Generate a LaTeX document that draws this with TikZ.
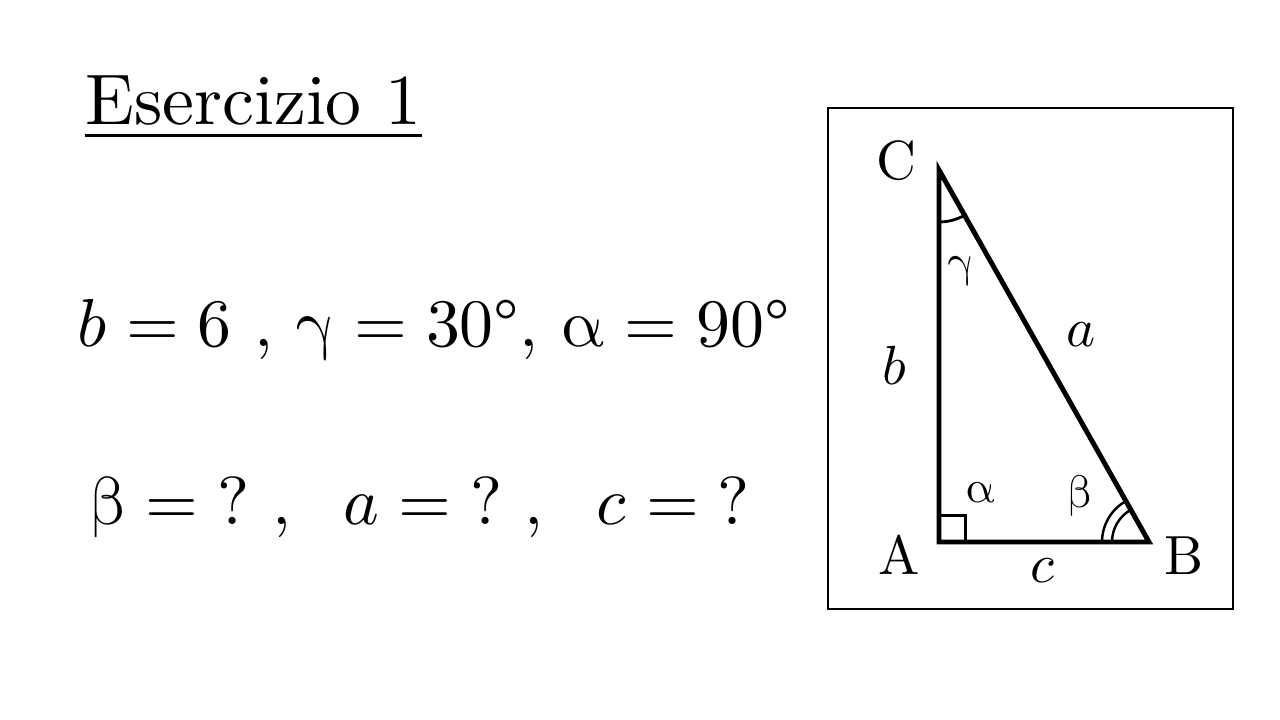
\documentclass[tikz,border=0pt]{standalone}
\usepackage{unicode-math}
\setmathfont{Latin Modern Math}

\begin{document}
\begin{tikzpicture}[line join=miter,
  big/.style={anchor=base west,inner sep=0pt,font=\fontsize{10}{12}\selectfont,scale=1.93,transform shape},
  vtx/.style={anchor=base,inner sep=0pt,font=\fontsize{10}{12}\selectfont,scale=1.57,transform shape},
  ang/.style={anchor=base,inner sep=0pt,font=\fontsize{10}{12}\selectfont,scale=1.3,transform shape}]

\useasboundingbox (0,0) rectangle (12.8,7.2);

% Title and data (left)
\node (title) at (0.84,5.95) [big,scale=1.057] {\underline{Esercizio 1}};
\node (data) at (0.76,3.73) [big] {$b = 6\ ,\,\symup{\gamma} = 30\mbox{°},\,\symup{\alpha} = 90\mbox{°}$};
\node (ask) at (0.88,1.95) [big] {$\symup{\beta} = {?}\ ,\ \;a = {?}\ ,\ \;c = {?}$};

% Frame
\node (frame) at (10.305,3.615) [draw,line width=0.5pt,minimum width=4.05cm,minimum height=5.01cm,inner sep=0pt] {};

% Vertices
\coordinate (A) at (9.39,1.78);
\coordinate (B) at (11.49,1.78);
\coordinate (C) at (9.39,5.50);

% Triangle
\draw[line width=1.4pt] (A) -- (B) -- (C) -- cycle;

% Right angle at A
\draw[line width=0.7pt] (A) ++(0.265,0) -- ++(0,0.265) -- ++(-0.265,0);

% Angle marks at C and B
\draw[line width=0.8pt] (C) ++(270:0.52) arc (270:299.5:0.52);
\draw[line width=0.7pt] (B) ++(180:0.47) arc (180:119.5:0.47);
\draw[line width=0.7pt] (B) ++(180:0.37) arc (180:119.5:0.37);

% Vertex labels
\node (lA) at (8.99,1.45) [vtx] {A};
\node (lB) at (11.84,1.45) [vtx] {B};
\node (lC) at (8.96,5.40) [vtx] {C};

% Side labels
\node (la) at (10.81,3.73) [vtx] {$a$};
\node (lb) at (8.95,3.35) [vtx] {$b$};
\node (lc) at (10.43,1.37) [vtx] {$c$};

% Angle labels
\node (lal) at (9.81,2.17) [ang] {$\symup{\alpha}$};
\node (lbe) at (10.80,2.12) [ang] {$\symup{\beta}$};
\node (lga) at (9.61,4.43) [ang] {$\symup{\gamma}$};

\end{tikzpicture}
\end{document}
